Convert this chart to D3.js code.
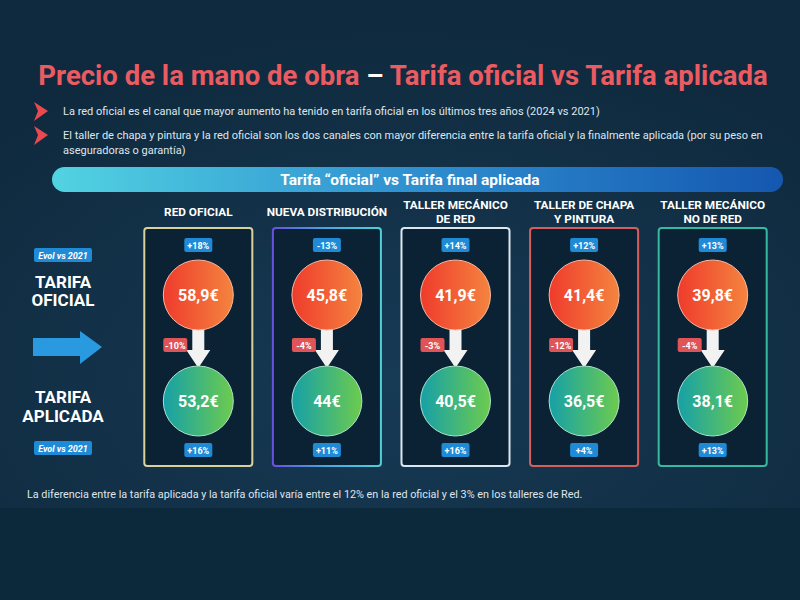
<!DOCTYPE html>
<html>
<head>
<meta charset="utf-8">
<script src="https://cdn.jsdelivr.net/npm/d3@7"></script>
<style>
  html, body { margin: 0; padding: 0; background: #0c293c; }
  svg { display: block; }
</style>
</head>
<body>
<div id="chart"></div>
<script>
// canales y valores
const categories = [
  ["RED OFICIAL"],
  ["NUEVA DISTRIBUCIÓN"],
  ["TALLER MECÁNICO", "DE RED"],
  ["TALLER DE CHAPA", "Y PINTURA"],
  ["TALLER MECÁNICO", "NO DE RED"]
];
const tarifaOficial = [58.9, 45.8, 41.9, 41.4, 39.8];
const tarifaAplicada = [53.2, 44, 40.5, 36.5, 38.1];
const evolOficial = ["+18%", "-13%", "+14%", "+12%", "+13%"];
const evolAplicada = ["+16%", "+11%", "+16%", "+4%", "+13%"];
const diferencia = ["-10%", "-4%", "-3%", "-12%", "-4%"];
const bullets = [
  ["La red oficial es el canal que mayor aumento ha tenido en tarifa oficial en los últimos tres años (2024 vs 2021)"],
  ["El taller de chapa y pintura y la red oficial son los dos canales con mayor diferencia entre la tarifa oficial y la finalmente aplicada (por su peso en",
   "aseguradoras o garantía)"]
];
const borderColors = ["#d8d29a", "url(#gBorder2)", "#dce6ee", "#d65f5d", "#35b9a0"];

let width = 800,
    height = 600;

const svg = d3.select("#chart").append("svg")
  .attr("width", width)
  .attr("height", height);

const defs = svg.append("defs");
function linGrad(id, stops, x2, y2) {
  const g = defs.append("linearGradient").attr("id", id)
    .attr("x1", "0%").attr("y1", "0%").attr("x2", x2 || "100%").attr("y2", y2 || "0%");
  stops.forEach((s, i) => g.append("stop")
    .attr("offset", (i / (stops.length - 1) * 100) + "%")
    .attr("stop-color", s));
}
linGrad("gRed", ["#ef3b2c", "#f4843f"]);
linGrad("gGreen", ["#16a0a8", "#6dcb4e"]);
linGrad("gBar", ["#52d3e2", "#2e8fd0", "#1557b0"]);
linGrad("gBorder2", ["#6a50e0", "#4aa8e0", "#4ed0d8"]);
const rg = defs.append("radialGradient").attr("id", "gBg")
  .attr("cx", "50%").attr("cy", "75%").attr("r", "70%");
rg.append("stop").attr("offset", "0%").attr("stop-color", "#173a55");
rg.append("stop").attr("offset", "100%").attr("stop-color", "#0f2a3e");

// fondo
svg.append("rect").attr("width", width).attr("height", height).attr("fill", "#0c293c");
svg.append("rect").attr("width", width).attr("height", 508).attr("fill", "url(#gBg)");

// titulo
const title = svg.append("text")
  .attr("x", 403).attr("y", 85)
  .attr("text-anchor", "middle")
  .style("font-family", "'Liberation Sans Narrow', 'Roboto', sans-serif")
  .style("font-weight", "bold")
  .style("font-size", "27.5px");
title.append("tspan").attr("fill", "#ea5b62").text("Precio de la mano de obra ");
title.append("tspan").attr("fill", "#ffffff").text("– ");
title.append("tspan").attr("fill", "#ea5b62").text("Tarifa oficial vs Tarifa aplicada");

// bullets
const bulletY = [111, 135];
bullets.forEach((lines, i) => {
  const y = bulletY[i];
  svg.append("path")
    .attr("d", `M34,${y - 9} L48,${y} L34,${y + 10} L38,${y} Z`)
    .attr("fill", "#e84a4f");
  lines.forEach((l, j) => {
    svg.append("text")
      .attr("x", 63).attr("y", y + 4 + j * 15)
      .attr("fill", "#dfe6ec")
      .style("font-family", "'Liberation Sans Narrow', 'Roboto', sans-serif")
      .style("font-size", "11px")
      .text(l);
  });
});

// barra de cabecera
svg.append("rect")
  .attr("x", 52).attr("y", 167).attr("width", 731).attr("height", 25)
  .attr("rx", 12.5).attr("fill", "url(#gBar)");
svg.append("text")
  .attr("x", 410).attr("y", 185)
  .attr("text-anchor", "middle")
  .attr("fill", "#ffffff")
  .style("font-family", "'Liberation Sans Narrow', 'Roboto', sans-serif")
  .style("font-weight", "bold")
  .style("font-size", "15.5px")
  .text("Tarifa “oficial” vs Tarifa final aplicada");

// escalas
const x = d3.scaleBand()
  .domain(d3.range(categories.length))
  .range([134, 777])
  .paddingInner(0.16)
  .paddingOuter(0.08);
const y = d3.scalePoint()
  .domain(["evolOf", "oficial", "diff", "aplicada", "evolAp"])
  .range([245, 450]);
const yPos = { evolOf: 245, oficial: 295, diff: 345, aplicada: 401, evolAp: 450 };
const fmt = v => String(v).replace(".", ",") + "€";
const r = 35;

const cols = svg.selectAll("g.col")
  .data(categories.map((c, i) => ({
    name: c, of: tarifaOficial[i], ap: tarifaAplicada[i],
    eo: evolOficial[i], ea: evolAplicada[i], d: diferencia[i], i: i
  })))
  .enter().append("g")
  .attr("class", "col")
  .attr("transform", d => `translate(${x(d.i) + x.bandwidth() / 2},0)`);

// cabeceras de columna
cols.each(function(d) {
  const g = d3.select(this);
  const n = d.name.length;
  d.name.forEach((l, j) => {
    g.append("text")
      .attr("x", 0)
      .attr("y", (n === 1 ? 216 : 209) + j * 14)
      .attr("text-anchor", "middle")
      .attr("fill", "#ffffff")
      .style("font-family", "Roboto, sans-serif")
      .style("font-weight", "bold")
      .style("font-size", "11.8px")
      .text(l);
  });
});

// cajas
cols.append("rect")
  .attr("x", -x.bandwidth() / 2).attr("y", 228)
  .attr("width", x.bandwidth()).attr("height", 238)
  .attr("rx", 3)
  .attr("fill", "#0b2234")
  .attr("stroke", d => borderColors[d.i])
  .attr("stroke-width", 2);

// flecha
cols.append("path")
  .attr("d", `M-6,${yPos.oficial + 28} L6,${yPos.oficial + 28} L6,350 L12,350 L0,368 L-12,350 L-6,350 Z`)
  .attr("fill", "#f2f2f2");

// circulos
cols.append("circle")
  .attr("cy", yPos.oficial).attr("r", r)
  .attr("fill", "url(#gRed)")
  .attr("stroke", "#f7b8a0").attr("stroke-width", 1);
cols.append("circle")
  .attr("cy", yPos.aplicada).attr("r", r)
  .attr("fill", "url(#gGreen)")
  .attr("stroke", "#a9e4c8").attr("stroke-width", 1);

const valueText = (sel, cy, key) => sel.append("text")
  .attr("y", cy + 6)
  .attr("text-anchor", "middle")
  .attr("fill", "#ffffff")
  .style("font-family", "Roboto, sans-serif")
  .style("font-weight", "bold")
  .style("font-size", "16px")
  .text(d => fmt(d[key]));
valueText(cols, yPos.oficial, "of");
valueText(cols, yPos.aplicada, "ap");

// etiquetas
function badge(sel, cx, cy, txt, fill, w) {
  const g = sel.append("g").attr("transform", `translate(${cx},${cy})`);
  g.append("rect")
    .attr("x", -w / 2).attr("y", -7).attr("width", w).attr("height", 14)
    .attr("rx", 2).attr("fill", fill);
  g.append("text")
    .attr("y", 3.5).attr("text-anchor", "middle")
    .attr("fill", "#ffffff")
    .style("font-family", "Roboto, sans-serif")
    .style("font-weight", "bold")
    .style("font-size", "9px")
    .text(txt);
  return g;
}
cols.each(function(d) {
  const g = d3.select(this);
  badge(g, 0, y("evolOf"), d.eo, "#1f8ad6", 28);
  badge(g, 0, y("evolAp"), d.ea, "#1f8ad6", 28);
  badge(g, -23, yPos.diff, d.d, "#de5457", 24);
});

// etiquetas izquierda
const left = svg.append("g").attr("transform", "translate(63,0)");
const evolBadge = (cy) => {
  const g = left.append("g").attr("transform", `translate(0,${cy})`);
  g.append("rect").attr("x", -29).attr("y", -7).attr("width", 58).attr("height", 14)
    .attr("rx", 2).attr("fill", "#1f8ad6");
  g.append("text").attr("y", 3.5).attr("text-anchor", "middle").attr("fill", "#ffffff")
    .style("font-family", "Roboto, sans-serif").style("font-weight", "bold")
    .style("font-style", "italic").style("font-size", "9px")
    .text("Evol vs 2021");
};
evolBadge(255);
evolBadge(448);
[["TARIFA", 288], ["OFICIAL", 306], ["TARIFA", 403], ["APLICADA", 422]].forEach(t => {
  left.append("text")
    .attr("y", t[1]).attr("text-anchor", "middle")
    .attr("fill", "#ffffff")
    .style("font-family", "Roboto, sans-serif")
    .style("font-weight", "bold")
    .style("font-size", "17px")
    .text(t[0]);
});
svg.append("path")
  .attr("d", "M33,338 L80,338 L80,331 L102,347 L80,364 L80,356 L33,356 Z")
  .attr("fill", "#2a9ae0");

// nota final
svg.append("text")
  .attr("x", 27).attr("y", 498)
  .attr("fill", "#dfe6ec")
  .style("font-family", "'Liberation Sans Narrow', 'Roboto', sans-serif")
  .style("font-size", "10.8px")
  .text("La diferencia entre la tarifa aplicada y la tarifa oficial varía entre el 12% en la red oficial y el 3% en los talleres de Red.");
</script>
</body>
</html>
